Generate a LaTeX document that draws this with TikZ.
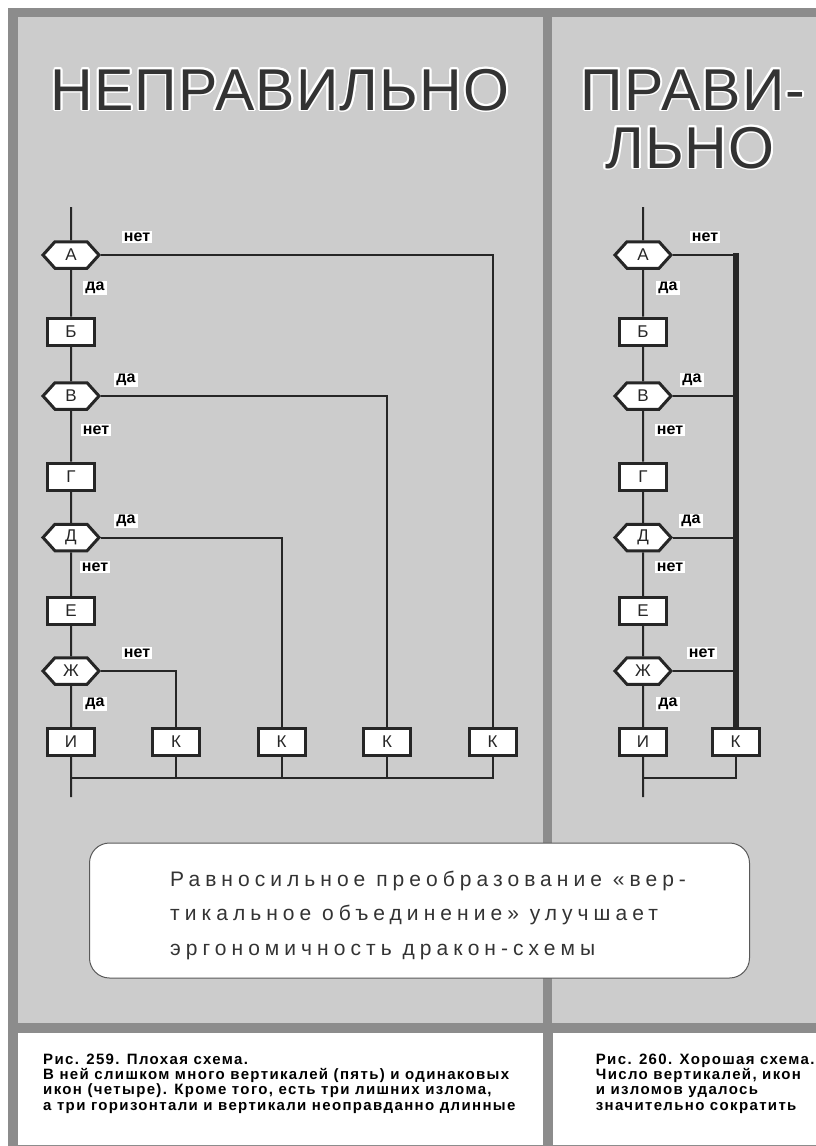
\documentclass[tikz,border=0pt]{standalone}
\usepackage{fontspec}
\setmainfont{Liberation Sans}
\newfontfamily\titlefont[LetterSpace=2]{Liberation Sans}
\newfontfamily\notefont[LetterSpace=24]{Liberation Sans}
\newfontfamily\captionfont[LetterSpace=9]{Liberation Sans}
\usepackage{contour}
\contourlength{1.8pt}
\usetikzlibrary{shapes.symbols}

\definecolor{framegray}{HTML}{8C8C8C}
\definecolor{panelgray}{HTML}{CCCCCC}
\definecolor{ink}{HTML}{262626}
\definecolor{titleink}{HTML}{333333}

\tikzset{
    action/.style={draw=ink, line width=3pt, fill=white, minimum width=47pt, minimum height=27pt,
        inner sep=0pt, text=ink, font=\fontsize{17}{17}\selectfont},
    question/.style={signal, signal to=east and west, signal pointer angle=96, draw=ink, line width=3pt,
        fill=white, minimum width=56pt, minimum height=26.5pt, inner sep=0pt, text=ink,
        font=\fontsize{17}{17}\selectfont},
    answer/.style={fill=white, inner xsep=2pt, inner ysep=1.5pt, text=black,
        font=\bfseries\fontsize{16}{16}\selectfont},
    wire/.style={draw=ink, line width=2pt},
    trunk/.style={draw=ink, line width=6pt},
    headline/.style={anchor=base, inner sep=0pt, text=titleink, font=\titlefont\fontsize{59}{59}\selectfont},
    caption/.style={anchor=base west, inner sep=0pt, align=left, text=black,
        font=\captionfont\bfseries\fontsize{15}{15.3}\selectfont},
}

\begin{document}
\begin{tikzpicture}[x=1pt, y=-1pt]
    % frame and panels
    \fill[white] (0,0) rectangle (816,1146);
    \fill[framegray] (8,8) rectangle (816,1146);
    \fill[panelgray] (18,17) rectangle (543,1023);
    \fill[panelgray] (552,17) rectangle (816,1023);
    \fill[white] (18,1033) rectangle (543,1145);
    \fill[white] (553,1033) rectangle (816,1145);

    % headlines
    \node[headline] (wrongTitle) at (280,110) {\contour{white}{НЕПРАВИЛЬНО}};
    \node[headline] (rightTitle) at (693,110) {\contour{white}{ПРАВИ-}};
    \node[headline] (rightTitle2) at (690,168) {\contour{white}{ЛЬНО}};

    % left scheme: five verticals
    \coordinate (lTop) at (71,207);
    \coordinate (lEnd) at (71,797);
    \coordinate (lBus) at (71,778);
    \node[question] (lA) at (71,255) {А};
    \node[action] (lB) at (71,331.5) {Б};
    \node[question] (lV) at (71,396) {В};
    \node[action] (lG) at (71,476.5) {Г};
    \node[question] (lD) at (71,537.5) {Д};
    \node[action] (lE) at (71,611) {Е};
    \node[question] (lZh) at (71,671) {Ж};
    \node[action] (lI) at (71,742) {И};
    \node[action] (lK1) at (176,742) {К};
    \node[action] (lK2) at (281.5,742) {К};
    \node[action] (lK3) at (387,742) {К};
    \node[action] (lK4) at (492.5,742) {К};
    \draw[wire] (lTop) -- (lA) -- (lB) -- (lV) -- (lG) -- (lD) -- (lE) -- (lZh) -- (lI) -- (lEnd);
    \draw[wire] (lA.east) -| (lK4);
    \draw[wire] (lV.east) -| (lK3);
    \draw[wire] (lD.east) -| (lK2);
    \draw[wire] (lZh.east) -| (lK1);
    \draw[wire] (lBus) -| (lK4.south);
    \draw[wire] (lK1.south) -- (lK1.south |- lBus);
    \draw[wire] (lK2.south) -- (lK2.south |- lBus);
    \draw[wire] (lK3.south) -- (lK3.south |- lBus);
    \node[answer] (lAno) at (137,237) {нет};
    \node[answer] (lAyes) at (95,288) {да};
    \node[answer] (lVyes) at (126,380) {да};
    \node[answer] (lVno) at (96,430) {нет};
    \node[answer] (lDyes) at (126,521) {да};
    \node[answer] (lDno) at (95,567) {нет};
    \node[answer] (lZhno) at (137,653) {нет};
    \node[answer] (lZhyes) at (95,704) {да};

    % right scheme: one joined vertical
    \coordinate (rTop) at (643,207);
    \coordinate (rEnd) at (643,797);
    \coordinate (rBus) at (643,778);
    \coordinate (rTrunk) at (735.5,253);
    \node[question] (rA) at (643,255) {А};
    \node[action] (rB) at (643,331.5) {Б};
    \node[question] (rV) at (643,396) {В};
    \node[action] (rG) at (643,476.5) {Г};
    \node[question] (rD) at (643,537.5) {Д};
    \node[action] (rE) at (643,611) {Е};
    \node[question] (rZh) at (643,671) {Ж};
    \node[action] (rI) at (643,742) {И};
    \node[action] (rK) at (735.5,742) {К};
    \draw[wire] (rTop) -- (rA) -- (rB) -- (rV) -- (rG) -- (rD) -- (rE) -- (rZh) -- (rI) -- (rEnd);
    \draw[trunk] (rTrunk) -- (rK);
    \draw[wire] (rA.east) -- (rA.east -| rTrunk);
    \draw[wire] (rV.east) -- (rV.east -| rTrunk);
    \draw[wire] (rD.east) -- (rD.east -| rTrunk);
    \draw[wire] (rZh.east) -- (rZh.east -| rTrunk);
    \draw[wire] (rBus) -| (rK.south);
    \node[answer] (rAno) at (705,237) {нет};
    \node[answer] (rAyes) at (668,288) {да};
    \node[answer] (rVyes) at (692,380) {да};
    \node[answer] (rVno) at (670,430) {нет};
    \node[answer] (rDyes) at (691,521) {да};
    \node[answer] (rDno) at (670,567) {нет};
    \node[answer] (rZhno) at (702,653) {нет};
    \node[answer] (rZhyes) at (668,704) {да};

    % note box
    \node[draw=black!65, line width=1pt, fill=white, rounded corners=20pt, minimum width=660pt,
        minimum height=135pt] (noteBox) at (419.5,910.5) {};
    \node[anchor=base west, inner sep=0pt, align=left, text=titleink,
        font=\notefont\fontsize{21}{34.5}\selectfont] (noteText) at (170,955)
        {Равносильное преобразование «вер-\\тикальное объединение» улучшает\\эргономичность дракон-схемы};

    % captions
    \node[caption] (badCaption) at (43,1110)
        {Рис. 259. Плохая схема.\\В ней слишком много вертикалей (пять) и одинаковых\\икон (четыре). Кроме того, есть три лишних излома,\\а три горизонтали и вертикали неоправданно длинные};
    \node[caption] (goodCaption) at (595.7,1110)
        {Рис. 260. Хорошая схема.\\Число вертикалей, икон\\и изломов удалось\\значительно сократить};
\end{tikzpicture}
\end{document}
